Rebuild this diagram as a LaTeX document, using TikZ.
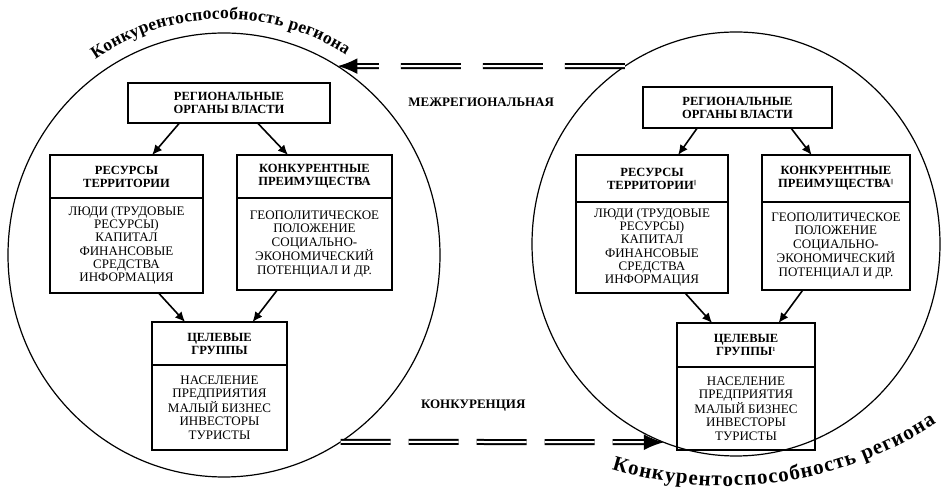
\documentclass[tikz,border=0pt]{standalone}
\usepackage{fontspec}
\setmainfont{Liberation Serif}
\usetikzlibrary{arrows.meta, positioning, shapes.geometric, decorations.text, calc}
\tikzset {
  region/.style = {draw, line width=1.2pt, ellipse, inner sep=0pt, outer sep=0pt},
  head/.style = {draw, line width=1.1pt, rectangle, align=center, inner sep=0pt, outer sep=0pt, font=\bfseries\fontsize{12.5}{13}\selectfont},
  body/.style = {draw, line width=1.1pt, rectangle, align=center, inner sep=0pt, outer sep=0pt, font=\fontsize{13}{13.3}\selectfont},
  line/.style = {->, line width=1.6pt, color=black, >={Latex[length=10pt, width=9pt]}},
  flow/.style = {->, line width=2pt, double, double distance=2pt, >={Latex[length=20pt, width=16pt]}},
  tag/.style = {font=\bfseries\fontsize{13}{13}\selectfont},
  arcword/.style = {decorate, decoration={text along path, text align={fit to path},
      text={|\bfseries\fontsize{#1}{#1}\selectfont|Конкурентоспособность региона}}}
}

\begin{document}
\begin{tikzpicture}[x=1pt, y=1pt]
  \useasboundingbox (0,0) rectangle (945,492);

  % left region
  \node[region, minimum width=432pt, minimum height=444pt] (lreg) at (224,237) {};
  \path[arcword=17.5] ($(lreg.center)+(124:230 and 236)$) arc[start angle=124, end angle=58, x radius=230, y radius=236];

  \node[head, minimum width=202pt, minimum height=40pt] (gov1) at (229,389) {РЕГИОНАЛЬНЫЕ\\ОРГАНЫ ВЛАСТИ};
  \node[head, minimum width=153pt, minimum height=43pt] (res1) at (126.5,315.5) {РЕСУРСЫ\\ТЕРРИТОРИИ};
  \node[body, minimum width=153pt, minimum height=95pt, below=0pt of res1] (res1b) {ЛЮДИ (ТРУДОВЫЕ\\РЕСУРСЫ)\\КАПИТАЛ\\ФИНАНСОВЫЕ\\СРЕДСТВА\\ИНФОРМАЦИЯ};
  \node[head, minimum width=155pt, minimum height=43pt] (adv1) at (314.5,315.5) {КОНКУРЕНТНЫЕ\\ПРЕИМУЩЕСТВА};
  \node[body, minimum width=155pt, minimum height=92pt, below=0pt of adv1] (adv1b) {ГЕОПОЛИТИЧЕСКОЕ\\ПОЛОЖЕНИЕ\\СОЦИАЛЬНО-\\ЭКОНОМИЧЕСКИЙ\\ПОТЕНЦИАЛ И ДР.};
  \node[head, minimum width=135pt, minimum height=43pt] (grp1) at (219.5,148.5) {ЦЕЛЕВЫЕ\\ГРУППЫ};
  \node[body, minimum width=135pt, minimum height=85pt, below=0pt of grp1] (grp1b) {НАСЕЛЕНИЕ\\ПРЕДПРИЯТИЯ\\МАЛЫЙ БИЗНЕС\\ИНВЕСТОРЫ\\ТУРИСТЫ};

  \draw[line, ->] (gov1.202) -- (res1.40);
  \draw[line, ->] (gov1.325) -- (adv1.141);
  \draw[line, ->] (res1b.304) -- (grp1.148);
  \draw[line, ->] (adv1b.231) -- (grp1.33);

  % right region
  \node[region, minimum width=408pt, minimum height=424pt] (rreg) at (736,248) {};
  \path[arcword=21] ($(rreg.center)+(-11,146)+(253:388)$) arc[start angle=253, end angle=303, radius=388];

  \node[head, minimum width=189pt, minimum height=41pt] (gov2) at (737.5,384.5) {РЕГИОНАЛЬНЫЕ\\ОРГАНЫ ВЛАСТИ};
  \node[head, minimum width=152pt, minimum height=47pt] (res2) at (652,313.5) {РЕСУРСЫ\\ТЕРРИТОРИИ\textsuperscript{\fontsize{6}{6}\selectfont ||}};
  \node[body, minimum width=152pt, minimum height=91pt, below=0pt of res2] (res2b) {ЛЮДИ (ТРУДОВЫЕ\\РЕСУРСЫ)\\КАПИТАЛ\\ФИНАНСОВЫЕ\\СРЕДСТВА\\ИНФОРМАЦИЯ};
  \node[head, minimum width=148pt, minimum height=47pt] (adv2) at (836,313.5) {КОНКУРЕНТНЫЕ\\ПРЕИМУЩЕСТВА\textsuperscript{\fontsize{6}{6}\selectfont ||}};
  \node[body, minimum width=148pt, minimum height=88pt, below=0pt of adv2] (adv2b) {ГЕОПОЛИТИЧЕСКОЕ\\ПОЛОЖЕНИЕ\\СОЦИАЛЬНО-\\ЭКОНОМИЧЕСКИЙ\\ПОТЕНЦИАЛ И ДР.};
  \node[head, minimum width=138pt, minimum height=44pt] (grp2) at (746,147) {ЦЕЛЕВЫЕ\\ГРУППЫ\textsuperscript{\fontsize{6}{6}\selectfont 1}};
  \node[body, minimum width=138pt, minimum height=83pt, below=0pt of grp2] (grp2b) {НАСЕЛЕНИЕ\\ПРЕДПРИЯТИЯ\\МАЛЫЙ БИЗНЕС\\ИНВЕСТОРЫ\\ТУРИСТЫ};

  \draw[line, ->] (gov2.207) -- (res2.42);
  \draw[line, ->] (gov2.339) -- (adv2.136);
  \draw[line, ->] (res2b.306) -- (grp2.147);
  \draw[line, ->] (adv2b.233) -- (grp2.34);

  % between the regions
  \draw[flow, ->, dash pattern=on 60pt off 22pt] (rreg.122) -- node[tag, below=27pt] (inter) {МЕЖРЕГИОНАЛЬНАЯ} (lreg.59);
  \draw[flow, ->, dash pattern=on 50pt off 18pt] (lreg.302) -- node[tag, above=26pt, pos=0.41] (comp) {КОНКУРЕНЦИЯ} (rreg.250);

\end{tikzpicture}
\end{document}
